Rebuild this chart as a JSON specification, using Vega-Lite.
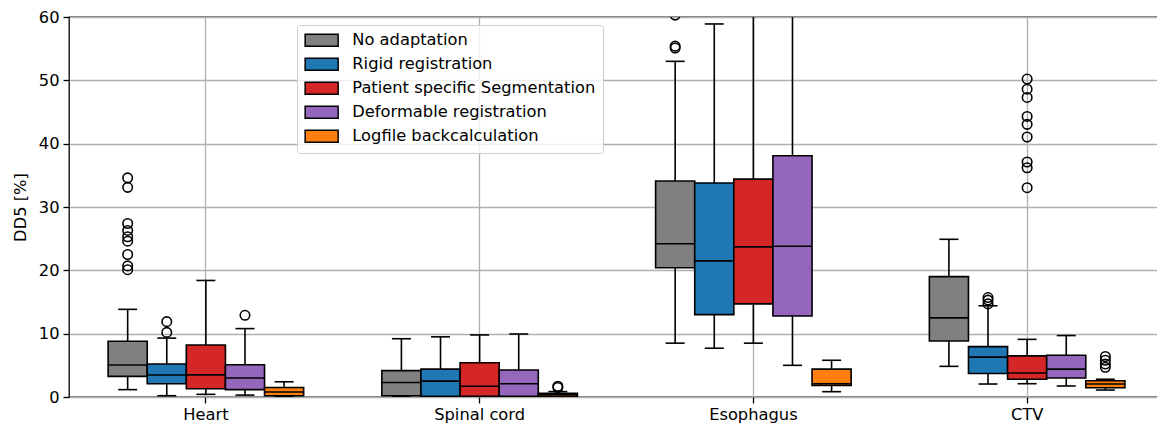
{
  "$schema": "https://vega.github.io/schema/vega-lite/v6.json",
  "width": 1095,
  "height": 380,
  "autosize": {"type": "none"},
  "padding": {"left": 69, "top": 17, "right": 0, "bottom": 26},
  "background": "white",
  "config": {
    "view": {"stroke": "black", "strokeWidth": 1.3},
    "font": "DejaVu Sans",
    "axis": {
      "labelFont": "DejaVu Sans", "labelFontSize": 16.3, "labelColor": "black",
      "titleFont": "DejaVu Sans", "titleFontSize": 16.3, "titleColor": "black", "titleFontWeight": "normal",
      "grid": true, "gridColor": "#b0b0b0", "gridWidth": 1.3,
      "tickColor": "black", "tickWidth": 1.3, "tickSize": 6, "domain": false
    }
  },
  "datasets": {
    "boxes": [
      {"organ": "Heart", "method": "No adaptation", "lo": 1.16, "q1": 3.26, "med": 5.05, "q3": 8.8, "hi": 13.84},
      {"organ": "Heart", "method": "Rigid registration", "lo": 0.2, "q1": 2.1, "med": 3.47, "q3": 5.2, "hi": 9.3},
      {"organ": "Heart", "method": "Patient specific Segmentation", "lo": 0.42, "q1": 1.3, "med": 3.5, "q3": 8.2, "hi": 18.4},
      {"organ": "Heart", "method": "Deformable registration", "lo": 0.3, "q1": 1.16, "med": 3.0, "q3": 5.1, "hi": 10.8},
      {"organ": "Heart", "method": "Logfile backcalculation", "lo": 0.1, "q1": 0.2, "med": 0.8, "q3": 1.5, "hi": 2.4},
      {"organ": "Spinal cord", "method": "No adaptation", "lo": 0.05, "q1": 0.2, "med": 2.3, "q3": 4.16, "hi": 9.2},
      {"organ": "Spinal cord", "method": "Rigid registration", "lo": 0.0, "q1": 0.1, "med": 2.5, "q3": 4.4, "hi": 9.5},
      {"organ": "Spinal cord", "method": "Patient specific Segmentation", "lo": 0.0, "q1": 0.1, "med": 1.7, "q3": 5.4, "hi": 9.8},
      {"organ": "Spinal cord", "method": "Deformable registration", "lo": 0.0, "q1": 0.1, "med": 2.1, "q3": 4.26, "hi": 9.95},
      {"organ": "Spinal cord", "method": "Logfile backcalculation", "lo": 0.0, "q1": 0.1, "med": 0.35, "q3": 0.6, "hi": 0.85},
      {"organ": "Esophagus", "method": "No adaptation", "lo": 8.5, "q1": 20.4, "med": 24.2, "q3": 34.1, "hi": 53.0},
      {"organ": "Esophagus", "method": "Rigid registration", "lo": 7.7, "q1": 13.0, "med": 21.5, "q3": 33.8, "hi": 58.9},
      {"organ": "Esophagus", "method": "Patient specific Segmentation", "lo": 8.5, "q1": 14.7, "med": 23.7, "q3": 34.4, "hi": 68.0},
      {"organ": "Esophagus", "method": "Deformable registration", "lo": 5.0, "q1": 12.8, "med": 23.8, "q3": 38.1, "hi": 75.0},
      {"organ": "Esophagus", "method": "Logfile backcalculation", "lo": 0.84, "q1": 1.84, "med": 2.1, "q3": 4.4, "hi": 5.8},
      {"organ": "CTV", "method": "No adaptation", "lo": 4.84, "q1": 8.84, "med": 12.5, "q3": 19.0, "hi": 24.9},
      {"organ": "CTV", "method": "Rigid registration", "lo": 2.05, "q1": 3.7, "med": 6.3, "q3": 7.95, "hi": 14.4},
      {"organ": "CTV", "method": "Patient specific Segmentation", "lo": 2.1, "q1": 2.8, "med": 3.8, "q3": 6.5, "hi": 9.1},
      {"organ": "CTV", "method": "Deformable registration", "lo": 1.74, "q1": 3.0, "med": 4.4, "q3": 6.6, "hi": 9.7},
      {"organ": "CTV", "method": "Logfile backcalculation", "lo": 1.1, "q1": 1.47, "med": 2.05, "q3": 2.57, "hi": 2.8}
    ],
    "outliers": [
      {"organ": "Heart", "method": "No adaptation", "value": 34.6},
      {"organ": "Heart", "method": "No adaptation", "value": 33.1},
      {"organ": "Heart", "method": "No adaptation", "value": 27.4},
      {"organ": "Heart", "method": "No adaptation", "value": 26.3},
      {"organ": "Heart", "method": "No adaptation", "value": 25.3},
      {"organ": "Heart", "method": "No adaptation", "value": 24.6},
      {"organ": "Heart", "method": "No adaptation", "value": 22.5},
      {"organ": "Heart", "method": "No adaptation", "value": 20.7},
      {"organ": "Heart", "method": "No adaptation", "value": 20.1},
      {"organ": "Heart", "method": "Rigid registration", "value": 11.9},
      {"organ": "Heart", "method": "Rigid registration", "value": 10.2},
      {"organ": "Heart", "method": "Deformable registration", "value": 12.9},
      {"organ": "Spinal cord", "method": "Logfile backcalculation", "value": 1.7},
      {"organ": "Spinal cord", "method": "Logfile backcalculation", "value": 1.5},
      {"organ": "Esophagus", "method": "No adaptation", "value": 55.1},
      {"organ": "Esophagus", "method": "No adaptation", "value": 55.4},
      {"organ": "Esophagus", "method": "No adaptation", "value": 60.3},
      {"organ": "CTV", "method": "Rigid registration", "value": 14.7},
      {"organ": "CTV", "method": "Rigid registration", "value": 15.3},
      {"organ": "CTV", "method": "Rigid registration", "value": 15.7},
      {"organ": "CTV", "method": "Patient specific Segmentation", "value": 33.05},
      {"organ": "CTV", "method": "Patient specific Segmentation", "value": 36.2},
      {"organ": "CTV", "method": "Patient specific Segmentation", "value": 37.1},
      {"organ": "CTV", "method": "Patient specific Segmentation", "value": 41.05},
      {"organ": "CTV", "method": "Patient specific Segmentation", "value": 43.05},
      {"organ": "CTV", "method": "Patient specific Segmentation", "value": 44.3},
      {"organ": "CTV", "method": "Patient specific Segmentation", "value": 47.3},
      {"organ": "CTV", "method": "Patient specific Segmentation", "value": 48.6},
      {"organ": "CTV", "method": "Patient specific Segmentation", "value": 50.2},
      {"organ": "CTV", "method": "Logfile backcalculation", "value": 6.4},
      {"organ": "CTV", "method": "Logfile backcalculation", "value": 5.8},
      {"organ": "CTV", "method": "Logfile backcalculation", "value": 5.2},
      {"organ": "CTV", "method": "Logfile backcalculation", "value": 4.7}
    ]
  },
  "encoding": {
    "x": {
      "field": "organ", "type": "nominal",
      "scale": {"domain": ["Heart", "Spinal cord", "Esophagus", "CTV"], "paddingInner": 0, "paddingOuter": 0},
      "axis": {"title": null, "labelAngle": 0, "bandPosition": 0.5, "labelPadding": 3}
    },
    "xOffset": {
      "field": "method", "type": "nominal",
      "scale": {"domain": ["No adaptation", "Rigid registration", "Patient specific Segmentation", "Deformable registration", "Logfile backcalculation"], "paddingInner": 0, "paddingOuter": 1.05}
    }
  },
  "layer": [
    {
      "data": {"name": "boxes"},
      "mark": {"type": "rule", "color": "black", "strokeWidth": 1.6, "clip": true},
      "encoding": {
        "y": {"field": "lo", "type": "quantitative", "scale": {"domain": [0, 60], "nice": false},
              "axis": {"title": "DD5 [%]", "values": [0, 10, 20, 30, 40, 50, 60], "labelPadding": 4, "titlePadding": 10}},
        "y2": {"field": "hi"}
      }
    },
    {
      "data": {"name": "boxes"},
      "mark": {"type": "tick", "orient": "horizontal", "color": "black", "size": 19, "thickness": 1.6, "clip": true, "opacity": 1},
      "encoding": {"y": {"field": "lo", "type": "quantitative"}}
    },
    {
      "data": {"name": "boxes"},
      "mark": {"type": "tick", "orient": "horizontal", "color": "black", "size": 19, "thickness": 1.6, "clip": true, "opacity": 1},
      "encoding": {"y": {"field": "hi", "type": "quantitative"}}
    },
    {
      "data": {"name": "boxes"},
      "mark": {"type": "bar", "stroke": "black", "strokeWidth": 1.6, "clip": true, "opacity": 1},
      "encoding": {
        "y": {"field": "q1", "type": "quantitative"},
        "y2": {"field": "q3"},
        "fill": {
          "field": "method", "type": "nominal",
          "scale": {"domain": ["No adaptation", "Rigid registration", "Patient specific Segmentation", "Deformable registration", "Logfile backcalculation"],
                    "range": ["#808080", "#1f77b4", "#d62728", "#9467bd", "#ff7f0e"]},
          "legend": {
            "title": null, "orient": "none", "legendX": 228, "legendY": 8,
            "symbolType": "M-1.1667,-1H4.3333V1H-1.1667Z", "symbolSize": 144,
            "symbolStrokeColor": "black", "symbolStrokeWidth": 1.5, "symbolOpacity": 1,
            "labelFont": "DejaVu Sans", "labelFontSize": 16.3, "labelColor": "black", "labelOffset": 32, "labelLimit": 400,
            "rowPadding": 5, "padding": 7,
            "fillColor": "rgba(255,255,255,0.8)", "strokeColor": "#cccccc", "cornerRadius": 3
          }
        }
      }
    },
    {
      "data": {"name": "boxes"},
      "mark": {"type": "tick", "orient": "horizontal", "color": "black", "size": 38.5, "thickness": 1.6, "clip": true, "opacity": 1},
      "encoding": {"y": {"field": "med", "type": "quantitative"}}
    },
    {
      "data": {"name": "outliers"},
      "mark": {"type": "point", "shape": "circle", "filled": false, "stroke": "black", "strokeWidth": 1.6, "size": 90, "clip": true, "opacity": 1},
      "encoding": {"y": {"field": "value", "type": "quantitative"}}
    }
  ]
}
